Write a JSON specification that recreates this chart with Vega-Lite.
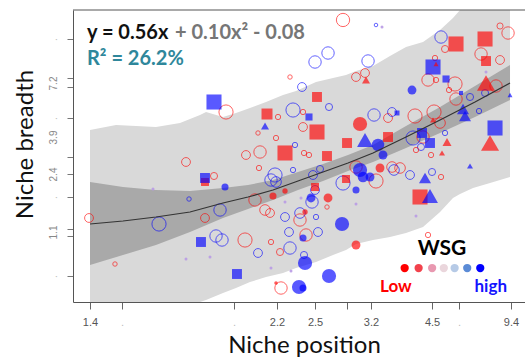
{
  "$schema": "https://vega.github.io/schema/vega-lite/v6.json",
  "width": 452,
  "height": 292,
  "autosize": {"type": "none"},
  "padding": {"left": 73, "top": 10, "right": 0, "bottom": 59},
  "background": "white",
  "config": {"view": {"stroke": null}},
  "datasets": {
    "pi": [
      {"u":3.78,"v":58.90,"v2":0},{"u":9.56,"v":60.62,"v2":0},{"u":18.44,"v":59.93,"v2":0},{"u":23.78,"v":61.30,"v2":0},
      {"u":28.22,"v":64.04,"v2":0},{"u":29.56,"v":65.07,"v2":0.68},{"u":33.33,"v":63.36,"v2":3.08},{"u":36.22,"v":64.73,"v2":4.79},
      {"u":39.33,"v":66.44,"v2":6.85},{"u":42.89,"v":68.49,"v2":8.56},{"u":46.67,"v":70.89,"v2":9.93},{"u":49.56,"v":72.26,"v2":11.64},
      {"u":54.0,"v":75.34,"v2":13.70},{"u":57.78,"v":76.71,"v2":16.10},{"u":60.67,"v":77.74,"v2":17.81},{"u":62.89,"v":79.11,"v2":19.86},
      {"u":66.67,"v":80.82,"v2":21.23},{"u":70.44,"v":84.25,"v2":22.26},{"u":74.0,"v":87.33,"v2":23.63},{"u":77.78,"v":89.04,"v2":25.68},
      {"u":81.56,"v":93.15,"v2":30.82},{"u":84.44,"v":97.26,"v2":35.62},{"u":86.0,"v":100,"v2":36.99},{"u":88.89,"v":100,"v2":39.04},
      {"u":92.67,"v":100,"v2":40.75},{"u":94.89,"v":100,"v2":41.78},{"u":97.11,"v":100,"v2":42.81}
    ],
    "ci": [
      {"u":3.78,"v":41.10,"v2":12.67},{"u":11.11,"v":39.38,"v2":16.10},{"u":18.44,"v":38.36,"v2":19.52},{"u":26.0,"v":38.01,"v2":23.97},
      {"u":33.33,"v":39.04,"v2":28.77},{"u":38.89,"v":40.07,"v2":31.85},{"u":44.44,"v":41.78,"v2":34.93},{"u":50.0,"v":44.52,"v2":38.36},
      {"u":55.56,"v":47.26,"v2":41.44},{"u":61.11,"v":50.34,"v2":44.86},{"u":66.67,"v":53.77,"v2":47.95},{"u":74.0,"v":60.27,"v2":52.74},
      {"u":81.56,"v":66.78,"v2":57.88},{"u":89.33,"v":73.97,"v2":63.36},{"u":97.11,"v":81.16,"v2":69.18}
    ],
    "fit": [
      {"u":3.78,"v":26.71},{"u":11.11,"v":27.74},{"u":18.44,"v":29.11},{"u":26.0,"v":30.82},{"u":33.33,"v":33.90},
      {"u":38.89,"v":35.96},{"u":44.44,"v":38.36},{"u":50.0,"v":41.44},{"u":55.56,"v":44.52},{"u":61.11,"v":47.60},
      {"u":66.67,"v":51.03},{"u":74.0,"v":56.51},{"u":81.56,"v":62.33},{"u":89.33,"v":68.49},{"u":97.11,"v":75.0}
    ],
    "frame": [{"u":0,"u2":100.44,"v":100}],
    "pts": [
      {"u":60.0,"v":96.58,"g":"o","w":1,"n":7.5},{"u":67.33,"v":94.86,"g":"o","w":7,"n":2},{"u":81.78,"v":90.75,"g":"o","w":7,"n":7},
      {"u":96.67,"v":92.12,"g":"o","w":1,"n":7},{"u":94.89,"v":94.52,"g":"o","w":1,"n":3.5},{"u":82.67,"v":86.64,"g":"o","w":1,"n":4},
      {"u":90.67,"v":84.93,"g":"o","w":1,"n":7},{"u":94.89,"v":82.88,"g":"o","w":1,"n":5},{"u":80.44,"v":83.56,"g":"o","w":1,"n":3},
      {"u":78.89,"v":76.03,"g":"o","w":1,"n":7},{"u":80.67,"v":76.03,"g":"o","w":1,"n":3},{"u":84.89,"v":74.66,"g":"o","w":1,"n":8},
      {"u":83.56,"v":72.6,"g":"o","w":1,"n":3},{"u":85.11,"v":69.52,"g":"o","w":1,"n":7},{"u":88.22,"v":70.21,"g":"o","w":7,"n":4},
      {"u":94.0,"v":73.97,"g":"o","w":1,"n":7},{"u":91.56,"v":71.58,"g":"o","w":7,"n":4},{"u":90.22,"v":65.41,"g":"o","w":7,"n":3},
      {"u":66.89,"v":64.04,"g":"o","w":7,"n":7},{"u":70.0,"v":63.01,"g":"o","w":1,"n":5},{"u":70.89,"v":65.07,"g":"o","w":7,"n":5},
      {"u":76.0,"v":63.70,"g":"o","w":1,"n":8},{"u":80.22,"v":65.07,"g":"o","w":1,"n":8},{"u":81.56,"v":61.30,"g":"o","w":1,"n":6},
      {"u":82.67,"v":57.88,"g":"o","w":7,"n":3},{"u":77.78,"v":56.51,"g":"o","w":1,"n":7},{"u":75.56,"v":56.16,"g":"o","w":7,"n":8},
      {"u":77.33,"v":53.08,"g":"o","w":7,"n":4},{"u":76.22,"v":52.05,"g":"o","w":1,"n":3},{"u":79.56,"v":50.34,"g":"o","w":1,"n":3},
      {"u":56.67,"v":85.27,"g":"o","w":7,"n":7},{"u":53.78,"v":82.19,"g":"o","w":7,"n":7},{"u":65.56,"v":82.53,"g":"o","w":7,"n":7},
      {"u":48.22,"v":77.05,"g":"o","w":1,"n":2.5},{"u":50.89,"v":73.63,"g":"o","w":7,"n":5},{"u":62.89,"v":77.05,"g":"o","w":1,"n":5},
      {"u":64.89,"v":78.42,"g":"o","w":1,"n":5},{"u":56.89,"v":66.78,"g":"o","w":7,"n":4},{"u":34.0,"v":65.07,"g":"o","w":1,"n":8},
      {"u":45.56,"v":63.36,"g":"o","w":1,"n":3},{"u":48.89,"v":65.75,"g":"o","w":7,"n":8},{"u":51.11,"v":65.07,"g":"o","w":1,"n":3},
      {"u":51.11,"v":59.93,"g":"o","w":1,"n":5},{"u":41.11,"v":57.88,"g":"o","w":1,"n":2.5},{"u":45.11,"v":56.16,"g":"o","w":1,"n":3},
      {"u":49.33,"v":53.77,"g":"o","w":7,"n":3},{"u":41.56,"v":51.37,"g":"o","w":1,"n":7},{"u":38.44,"v":50.34,"g":"o","w":1,"n":5},
      {"u":51.33,"v":51.03,"g":"o","w":1,"n":3},{"u":52.44,"v":50.34,"g":"o","w":1,"n":3},{"u":41.33,"v":45.89,"g":"o","w":1,"n":3},
      {"u":44.89,"v":43.49,"g":"o","w":7,"n":8},{"u":44.0,"v":41.78,"g":"o","w":7,"n":7},{"u":45.11,"v":41.10,"g":"o","w":7,"n":6},
      {"u":48.89,"v":45.21,"g":"o","w":7,"n":3},{"u":54.89,"v":45.55,"g":"o","w":7,"n":4},{"u":53.33,"v":43.49,"g":"o","w":7,"n":5},
      {"u":62.89,"v":46.23,"g":"o","w":1,"n":7},{"u":60.0,"v":40.75,"g":"o","w":7,"n":8},{"u":53.78,"v":38.36,"g":"o","w":7,"n":5},
      {"u":40.44,"v":34.93,"g":"o","w":1,"n":7},{"u":32.67,"v":31.51,"g":"o","w":7,"n":7},{"u":42.67,"v":31.51,"g":"o","w":1,"n":6},
      {"u":43.78,"v":30.48,"g":"o","w":1,"n":5},{"u":53.11,"v":34.25,"g":"o","w":7,"n":7},{"u":56.44,"v":32.53,"g":"o","w":1,"n":2.5},
      {"u":50.44,"v":28.08,"g":"o","w":1,"n":7},{"u":50.44,"v":30.48,"g":"o","w":7,"n":6},{"u":47.11,"v":29.11,"g":"o","w":7,"n":5},
      {"u":54.0,"v":29.11,"g":"o","w":7,"n":3},{"u":38.22,"v":21.23,"g":"o","w":1,"n":8},{"u":44.0,"v":20.55,"g":"o","w":1,"n":3},
      {"u":48.0,"v":23.97,"g":"o","w":7,"n":5},{"u":48.22,"v":18.49,"g":"o","w":7,"n":7},{"u":46.0,"v":17.12,"g":"o","w":1,"n":4},
      {"u":51.78,"v":22.95,"g":"o","w":1,"n":7},{"u":54.44,"v":23.97,"g":"o","w":7,"n":5},{"u":41.11,"v":16.78,"g":"o","w":7,"n":5},
      {"u":51.33,"v":16.10,"g":"o","w":7,"n":4},{"u":46.22,"v":4.79,"g":"o","w":1,"n":7},{"u":25.11,"v":47.95,"g":"o","w":1,"n":5},
      {"u":31.33,"v":43.15,"g":"o","w":1,"n":4},{"u":25.78,"v":35.27,"g":"o","w":7,"n":2.5},{"u":3.56,"v":28.77,"g":"o","w":1,"n":5},
      {"u":19.11,"v":26.71,"g":"o","w":7,"n":8},{"u":29.33,"v":28.77,"g":"o","w":1,"n":5},{"u":31.78,"v":22.60,"g":"o","w":7,"n":7},
      {"u":33.11,"v":21.23,"g":"o","w":7,"n":7},{"u":9.33,"v":13.01,"g":"o","w":1,"n":2.5},{"u":67.33,"v":41.44,"g":"o","w":1,"n":8},
      {"u":70.89,"v":46.23,"g":"o","w":1,"n":6},{"u":72.67,"v":45.89,"g":"o","w":1,"n":6},{"u":74.89,"v":43.49,"g":"o","w":7,"n":5},
      {"u":71.33,"v":45.21,"g":"o","w":7,"n":6},{"u":79.78,"v":44.52,"g":"o","w":7,"n":4},{"u":81.78,"v":42.81,"g":"o","w":1,"n":3},
      {"u":78.89,"v":22.95,"g":"o","w":1,"n":3},
      {"u":75.33,"v":72.6,"g":"c","w":7,"n":5},{"u":67.78,"v":53.77,"g":"c","w":7,"n":7},{"u":68.89,"v":50.34,"g":"c","w":7,"n":5},
      {"u":63.78,"v":60.96,"g":"c","w":1,"n":8},{"u":63.78,"v":45.21,"g":"c","w":7,"n":8},{"u":64.44,"v":42.81,"g":"c","w":7,"n":6},
      {"u":66.0,"v":42.81,"g":"c","w":7,"n":5},{"u":62.89,"v":38.36,"g":"c","w":7,"n":4},{"u":33.78,"v":39.38,"g":"c","w":7,"n":4},
      {"u":44.44,"v":36.30,"g":"c","w":1,"n":4},{"u":47.11,"v":38.01,"g":"c","w":1,"n":3},{"u":52.89,"v":35.62,"g":"c","w":7,"n":5},
      {"u":56.67,"v":35.62,"g":"c","w":1,"n":5},{"u":59.78,"v":26.71,"g":"c","w":7,"n":8},{"u":51.11,"v":21.92,"g":"c","w":7,"n":4},
      {"u":62.89,"v":19.52,"g":"c","w":1,"n":5},{"u":51.56,"v":13.36,"g":"c","w":7,"n":8},{"u":56.89,"v":8.90,"g":"c","w":7,"n":8},
      {"u":45.11,"v":6.51,"g":"c","w":1,"n":2},{"u":50.22,"v":5.14,"g":"c","w":7,"n":8},{"u":51.11,"v":4.79,"g":"c","w":7,"n":4},
      {"u":51.56,"v":30.82,"g":"c","w":1,"n":3},{"u":68.22,"v":45.89,"g":"c","w":1,"n":5},
      {"u":85.11,"v":88.36,"g":"s","w":1,"n":8.5},{"u":91.56,"v":90.07,"g":"s","w":1,"n":8.5},{"u":91.78,"v":82.53,"g":"s","w":1,"n":5.6},
      {"u":80.0,"v":80.48,"g":"s","w":7,"n":8.5},{"u":82.89,"v":76.37,"g":"s","w":7,"n":4.0},{"u":86.22,"v":71.58,"g":"s","w":7,"n":2.3},
      {"u":72.0,"v":64.73,"g":"s","w":7,"n":2.8},{"u":70.0,"v":56.51,"g":"s","w":1,"n":5.6},{"u":77.56,"v":57.88,"g":"s","w":7,"n":5.6},
      {"u":79.33,"v":54.45,"g":"s","w":7,"n":5.6},{"u":93.78,"v":59.59,"g":"s","w":7,"n":8.5},{"u":54.22,"v":70.21,"g":"s","w":1,"n":5.6},
      {"u":43.11,"v":64.38,"g":"s","w":1,"n":6.2},{"u":52.44,"v":63.36,"g":"s","w":7,"n":4.0},{"u":54.22,"v":58.22,"g":"s","w":1,"n":8.5},
      {"u":60.89,"v":54.45,"g":"s","w":1,"n":5.6},{"u":47.11,"v":51.03,"g":"s","w":1,"n":8.5},{"u":56.44,"v":50.0,"g":"s","w":1,"n":5.6},
      {"u":31.33,"v":68.49,"g":"s","w":7,"n":8.5},{"u":60.67,"v":42.12,"g":"s","w":1,"n":4.5},{"u":53.78,"v":39.38,"g":"s","w":1,"n":4.5},
      {"u":36.44,"v":9.59,"g":"s","w":7,"n":5.6},{"u":29.33,"v":41.10,"g":"s","w":1,"n":4.5},{"u":29.33,"v":42.47,"g":"s","w":7,"n":5.6},
      {"u":28.44,"v":20.55,"g":"s","w":7,"n":5.6},{"u":77.11,"v":35.96,"g":"s","w":1,"n":8.5},
      {"u":80.67,"v":81.51,"g":"t","w":1,"n":2.8},{"u":91.78,"v":75.0,"g":"t","w":1,"n":10.2},{"u":97.11,"v":70.89,"g":"t","w":7,"n":2.8},
      {"u":86.67,"v":66.10,"g":"t","w":7,"n":6.8},{"u":87.11,"v":63.70,"g":"t","w":7,"n":6.8},{"u":80.0,"v":62.33,"g":"t","w":1,"n":3.4},
      {"u":83.11,"v":54.79,"g":"t","w":1,"n":5.1},{"u":82.0,"v":51.03,"g":"t","w":1,"n":3.4},{"u":92.67,"v":54.45,"g":"t","w":1,"n":10.2},
      {"u":65.11,"v":76.03,"g":"t","w":1,"n":4.5},{"u":42.67,"v":60.27,"g":"t","w":7,"n":4.5},{"u":64.89,"v":55.48,"g":"t","w":7,"n":9.0},
      {"u":78.22,"v":42.47,"g":"t","w":7,"n":6.8},{"u":88.22,"v":46.58,"g":"t","w":7,"n":3.4},{"u":79.33,"v":36.30,"g":"t","w":7,"n":9.0},
      {"u":68.67,"v":94.18,"g":"d","w":5,"n":1},{"u":91.78,"v":78.77,"g":"d","w":5,"n":1},{"u":47.11,"v":34.25,"g":"d","w":5,"n":1},
      {"u":50.67,"v":35.62,"g":"d","w":5,"n":1},{"u":62.89,"v":33.56,"g":"d","w":5,"n":1},{"u":44.0,"v":11.64,"g":"d","w":5,"n":1},
      {"u":48.44,"v":10.62,"g":"d","w":5,"n":1},{"u":17.78,"v":38.70,"g":"d","w":5,"n":1},{"u":30.44,"v":15.41,"g":"d","w":5,"n":1},
      {"u":25.11,"v":14.73,"g":"d","w":5,"n":1},{"u":76.22,"v":29.45,"g":"d","w":5,"n":1}
    ],
    "ann": [
      {"id":"eq1","u":3.11,"v":90.07,"t":"y = 0.56x"},
      {"id":"eq2","u":22.67,"v":90.07,"t":"+ 0.10x² - 0.08"},
      {"id":"r2","u":3.11,"v":81.16,"t":"R² = 26.2%"},
      {"id":"wsg","u":82.0,"v":16.10,"t":"WSG"},
      {"id":"low","u":68.22,"v":3.42,"t":"Low"},
      {"id":"high","u":96.44,"v":3.42,"t":"high"}
    ],
    "leg": [
      {"u":73.7,"v":11.64,"w":1},{"u":76.8,"v":11.64,"w":2},{"u":79.8,"v":11.64,"w":3},{"u":82.4,"v":11.64,"w":4},
      {"u":84.8,"v":11.64,"w":5},{"u":87.6,"v":11.64,"w":6},{"u":90.5,"v":11.64,"w":7}
    ]
  },
  "encoding": {
    "x": {
      "field": "u", "type": "quantitative",
      "scale": {"domain": [0, 100.44], "nice": false, "zero": false},
      "axis": {
        "values": [3.78, 10.89, 35.78, 45.33, 53.78, 60.89, 66.22, 79.78, 85.78, 97.33],
        "labelExpr": "datum.value < 5 ? '1.4' : datum.value < 40 ? '.' : datum.value < 50 ? '2.2' : datum.value < 57 ? '2.5' : datum.value < 63 ? '' : datum.value < 70 ? '3.2' : datum.value < 82 ? '4.5' : datum.value < 90 ? '.' : '9.4'",
        "grid": false, "domain": true, "domainColor": "#555555", "domainWidth": 1,
        "ticks": true, "tickColor": "#666666", "tickSize": 7, "tickWidth": 1,
        "labelFont": "Liberation Sans", "labelFontSize": 11,
        "labelColor": {"condition": {"test": "datum.value == 10.89 || datum.value == 35.78 || datum.value == 85.78", "value": "#bbbbbb"}, "value": "#555555"},
        "labelPadding": 7, "labelFlush": false, "labelOverlap": false,
        "title": "Niche position", "titleFont": "Lato", "titleFontSize": 24, "titleFontWeight": "normal", "titleColor": "#111111",
        "titleX": 231, "titleY": 50, "titleBaseline": "alphabetic", "titleAlign": "center"
      }
    },
    "y": {
      "field": "v", "type": "quantitative",
      "scale": {"domain": [0, 100], "nice": false, "zero": false},
      "axis": {
        "values": [8.9, 22.6, 23.97, 25, 35.96, 43.84, 49.66, 56.51, 63.01, 73.63, 75, 76.71, 90.07],
        "labelExpr": "(datum.value == 8.9 || datum.value == 35.96 || datum.value == 63.01 || datum.value == 90.07) ? '.' : datum.value == 23.97 ? '1.1' : datum.value == 43.84 ? '2.4' : datum.value == 56.51 ? '3.9' : datum.value == 75 ? '7.2' : ''",
        "grid": false, "domain": true, "domainColor": "#555555", "domainWidth": 1,
        "ticks": true, "tickColor": "#777777", "tickSize": 6, "tickWidth": 1,
        "tickOpacity": {"condition": {"test": "datum.value == 23.97 || datum.value == 56.51 || datum.value == 75", "value": 0}, "value": 1},
        "labelFont": "Liberation Sans", "labelFontSize": 10,
        "labelColor": {"condition": {"test": "datum.value == 8.9 || datum.value == 35.96 || datum.value == 63.01 || datum.value == 90.07", "value": "#bbbbbb"}, "value": "#888888"},
        "labelAngle": 270, "labelAlign": "center", "labelBaseline": "alphabetic",
        "labelPadding": 11, "labelFlush": false, "labelOverlap": false,
        "title": "Niche breadth", "titleFont": "Lato", "titleFontSize": 24, "titleFontWeight": "normal", "titleColor": "#111111",
        "titleAngle": 270, "titleX": -41, "titleY": 134, "titleBaseline": "alphabetic", "titleAlign": "center"
      }
    }
  },
  "layer": [
    {"data": {"name": "pi"}, "mark": {"type": "area", "color": "#d9d9d9", "opacity": 1}, "encoding": {"y2": {"field": "v2"}}},
    {"data": {"name": "ci"}, "mark": {"type": "area", "color": "#a9a9a9", "opacity": 1}, "encoding": {"y2": {"field": "v2"}}},
    {"data": {"name": "pts"}, "transform": [{"filter": "datum.g == 'o'"}],
     "mark": {"type": "point", "shape": "circle", "filled": false, "strokeWidth": 1, "opacity": 0.6},
     "encoding": {
       "color": {"field": "w", "type": "ordinal", "scale": {"domain": [1,2,3,4,5,6,7], "range": ["#ff0000","#f2424c","#e898b0","#ead6dc","#b6cae6","#5b8bd6","#0000ff"]}, "legend": null},
       "size": {"field": "n", "type": "quantitative", "scale": {"type": "pow", "exponent": 2, "domain": [0, 10], "range": [0, 314]}, "legend": null}
     }},
    {"data": {"name": "pts"}, "transform": [{"filter": "datum.g == 'c' || datum.g == 's' || datum.g == 't'"}],
     "mark": {"type": "point", "filled": true, "opacity": 0.65, "strokeWidth": 0},
     "encoding": {
       "color": {"field": "w", "type": "ordinal", "scale": {"domain": [1,2,3,4,5,6,7], "range": ["#ff0000","#f2424c","#e898b0","#ead6dc","#b6cae6","#5b8bd6","#0000ff"]}, "legend": null},
       "size": {"field": "n", "type": "quantitative", "scale": {"type": "pow", "exponent": 2, "domain": [0, 10], "range": [0, 314]}, "legend": null},
       "shape": {"field": "g", "type": "nominal", "scale": {"domain": ["c","s","t"], "range": ["circle","square","triangle-up"]}, "legend": null}
     }},
    {"data": {"name": "pts"}, "transform": [{"filter": "datum.g == 'd'"}],
     "mark": {"type": "point", "shape": "circle", "filled": true, "color": "#b89ae4", "size": 9, "opacity": 0.9}},
    {"data": {"name": "fit"}, "mark": {"type": "line", "color": "#333333", "strokeWidth": 1.2}, "encoding": {}},
    {"data": {"name": "frame"}, "mark": {"type": "rule", "color": "#555555", "strokeWidth": 1}, "encoding": {"x2": {"field": "u2"}}},
    {"data": {"name": "ann"}, "transform": [{"filter": "datum.id == 'eq1'"}],
     "mark": {"type": "text", "align": "left", "baseline": "alphabetic", "font": "Lato", "fontSize": 20, "fontWeight": "bold", "color": "#111111"},
     "encoding": {"text": {"field": "t"}}},
    {"data": {"name": "ann"}, "transform": [{"filter": "datum.id == 'eq2'"}],
     "mark": {"type": "text", "align": "left", "baseline": "alphabetic", "font": "Lato", "fontSize": 20, "fontWeight": "bold", "color": "#767676"},
     "encoding": {"text": {"field": "t"}}},
    {"data": {"name": "ann"}, "transform": [{"filter": "datum.id == 'r2'"}],
     "mark": {"type": "text", "align": "left", "baseline": "alphabetic", "font": "Lato", "fontSize": 20, "fontWeight": "bold", "color": "#2f879b"},
     "encoding": {"text": {"field": "t"}}},
    {"data": {"name": "ann"}, "transform": [{"filter": "datum.id == 'wsg'"}],
     "mark": {"type": "text", "align": "center", "baseline": "alphabetic", "font": "Lato", "fontSize": 21, "fontWeight": "bold", "color": "#000000"},
     "encoding": {"text": {"field": "t"}}},
    {"data": {"name": "ann"}, "transform": [{"filter": "datum.id == 'low'"}],
     "mark": {"type": "text", "align": "left", "baseline": "alphabetic", "font": "Lato", "fontSize": 17, "fontWeight": "bold", "color": "#ff0000"},
     "encoding": {"text": {"field": "t"}}},
    {"data": {"name": "ann"}, "transform": [{"filter": "datum.id == 'high'"}],
     "mark": {"type": "text", "align": "right", "baseline": "alphabetic", "font": "Lato", "fontSize": 17, "fontWeight": "bold", "color": "#1414ff"},
     "encoding": {"text": {"field": "t"}}},
    {"data": {"name": "leg"}, "mark": {"type": "point", "shape": "circle", "filled": true, "opacity": 1, "size": 68},
     "encoding": {"color": {"field": "w", "type": "ordinal", "scale": {"domain": [1,2,3,4,5,6,7], "range": ["#ff0000","#f2424c","#e898b0","#ead6dc","#b6cae6","#5b8bd6","#0000ff"]}, "legend": null}}}
  ]
}
